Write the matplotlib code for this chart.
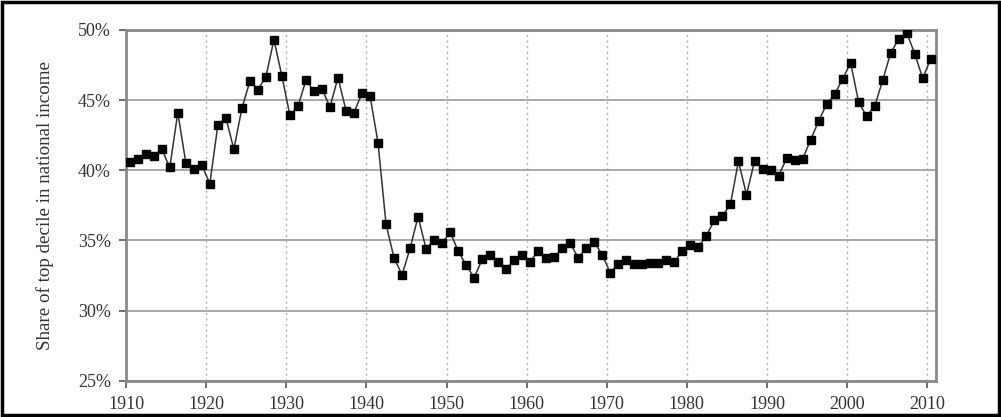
import matplotlib
matplotlib.use("Agg")
import matplotlib.pyplot as plt
from matplotlib.patches import Rectangle
from matplotlib.ticker import FuncFormatter

plt.rcParams["font.family"] = ["Liberation Serif", "DejaVu Serif"]

years = list(range(1910, 2011))
share = [
    40.6, 40.8, 41.15, 41.05, 41.5, 40.2, 44.1, 40.55, 40.1, 40.35,
    39.05, 43.2, 43.75, 41.5, 44.4, 46.35, 45.75, 46.65, 49.3, 46.7,
    43.9, 44.55, 46.4, 45.65, 45.8, 44.5, 46.6, 44.25, 44.1, 45.5,
    45.3, 41.95, 36.15, 33.75, 32.55, 34.45, 36.7, 34.4, 35.05, 34.8,
    35.6, 34.25, 33.25, 32.35, 33.65, 33.95, 33.5, 33.0, 33.6, 33.95,
    33.5, 34.25, 33.75, 33.8, 34.45, 34.8, 33.75, 34.5, 34.9, 33.95,
    32.7, 33.35, 33.6, 33.35, 33.3, 33.42, 33.43, 33.62, 33.5, 34.25,
    34.65, 34.55, 35.35, 36.45, 36.75, 37.6, 40.65, 38.25, 40.65, 40.1,
    40.0, 39.6, 40.85, 40.7, 40.8, 42.15, 43.5, 44.7, 45.4, 46.5,
    47.65, 44.85, 43.85, 44.55, 46.4, 48.35, 49.35, 49.8, 48.3, 46.55,
    47.95,
]
xtick_years = [1910, 1920, 1930, 1940, 1950, 1960, 1970, 1980, 1990, 2000, 2010]
ytick_vals = [25, 30, 35, 40, 45, 50]
ylabel = "Share of top decile in national income"

fig = plt.figure(figsize=(10.01, 4.17), dpi=100)
ax = fig.add_axes([0.126, 0.0865, 0.809, 0.842])

xs = [y + 0.45 for y in years]
ax.plot(xs, share, color="#333333", linewidth=1.1, marker="s",
        markersize=5.5, markerfacecolor="black", markeredgecolor="black", zorder=3)

ax.set_xlim(1910, 2011.1)
ax.set_ylim(25, 50)
ax.set_xticks(xtick_years)
ax.set_yticks(ytick_vals)
ax.yaxis.set_major_formatter(FuncFormatter(lambda v, p: f"{int(v)}%"))

for v in ytick_vals:
    ax.axhline(v, color="#9a9a9a", linewidth=1.2, zorder=1)
for x in xtick_years[1:]:
    ax.axvline(x, color="#b0b0b0", linewidth=1.0, linestyle=(0, (1.5, 2.5)), zorder=1)

for s in ax.spines.values():
    s.set_color("#8a8a8a")
    s.set_linewidth(2.0)

ax.tick_params(axis="both", colors="#555555", length=5, width=1.2,
               labelcolor="#333333", labelsize=13)
ax.tick_params(axis="x", pad=6)
ax.tick_params(axis="y", pad=6)
ax.set_ylabel(ylabel, fontsize=13.7, color="#333333", labelpad=17)

fig.patches.append(Rectangle((0.002, 0.004), 0.996, 0.992, transform=fig.transFigure,
                             fill=False, edgecolor="black", linewidth=2.5))

fig.savefig("out.png", dpi=100)
